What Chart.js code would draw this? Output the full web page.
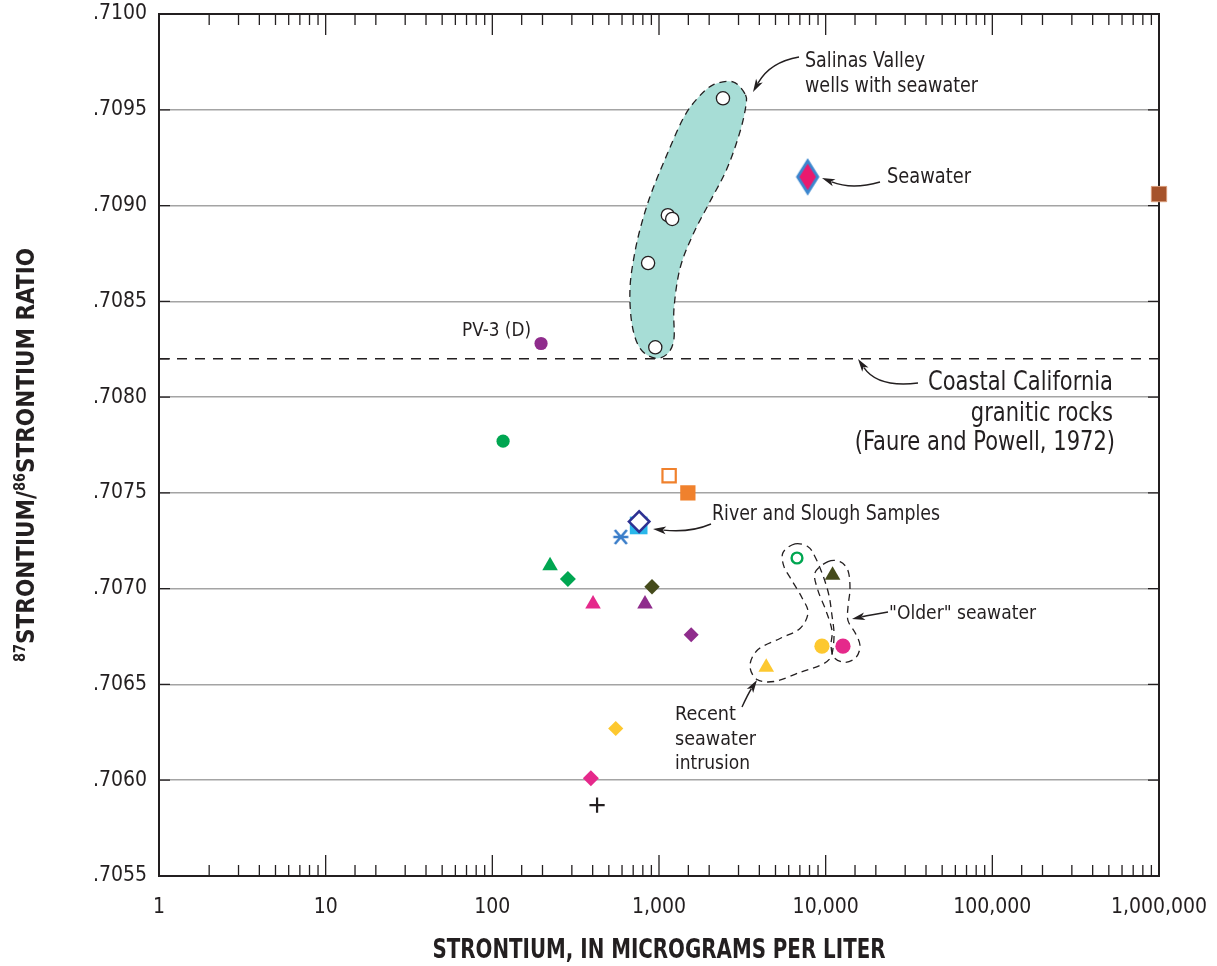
<!DOCTYPE html>
<html><head><meta charset="utf-8">
<script src="https://cdn.jsdelivr.net/npm/chart.js@4.4.0/dist/chart.umd.min.js"></script>
<style>html,body{margin:0;padding:0;background:#fff}#wrap{width:1217px;height:966px;position:relative}</style>
</head><body><div id="wrap"><canvas id="c"></canvas></div>
<script>
// ---------- DATA ----------
const xTickLabels = ['1', '10', '100', '1,000', '10,000', '100,000', '1,000,000'];
const yTickLabels = ['.7055', '.7060', '.7065', '.7070', '.7075', '.7080', '.7085', '.7090', '.7095', '.7100'];

// Salinas Valley wells with seawater (open circles)
const salinasSr = [2420, 1130, 1200, 860, 950];
const salinasRatio = [0.70956, 0.70895, 0.70893, 0.70870, 0.70826];

// Seawater
const seawaterSr = [7800];
const seawaterRatio = [0.70915];

// Other samples (one symbol each)
const sampleNames = ['brown square', 'PV-3 (D)', 'green circle', 'orange open square', 'orange square',
  'cyan square', 'river/slough diamond', 'blue asterisk', 'green triangle', 'green diamond',
  'pink triangle', 'olive diamond', 'purple triangle', 'purple diamond', 'green open circle',
  'olive triangle', 'yellow circle', 'pink circle', 'yellow triangle', 'yellow diamond',
  'pink diamond', 'black plus'];
const sampleSr = [1000000, 196, 116, 1150, 1490, 755, 760, 590, 222, 284,
  402, 908, 824, 1560, 6730, 11000, 9500, 12700, 4400, 550, 390, 425];
const sampleRatio = [0.70906, 0.70828, 0.70777, 0.70759, 0.70750, 0.70733, 0.70735, 0.70727, 0.70712, 0.70705,
  0.70692, 0.70701, 0.70692, 0.70676, 0.70716, 0.70707, 0.70670, 0.70670, 0.70659, 0.70627, 0.70601, 0.70587];

// Coastal California granitic rocks ratio (Faure and Powell, 1972)
const graniteRatio = 0.7082;

// ---------- ANNOTATION GEOMETRY (data space: [log10 Sr, ratio]) ----------
const salinasOutline = [[3.516,.709583],[3.444,.709646],[3.324,.70963],[3.228,.709557],[3.144,.709453],[3.048,.709266],
  [2.964,.709089],[2.904,.708932],[2.856,.70876],[2.826,.708568],[2.838,.70838],[2.886,.708255],[2.976,.708203],
  [3.054,.708229],[3.090,.708307],[3.090,.708464],[3.126,.708672],[3.204,.708849],[3.306,.709021],[3.408,.709193],
  [3.486,.709385],[3.522,.709526]];
const recentOutline = [[3.816,.707234],[3.894,.707219],[3.936,.707167],[3.984,.707068],[4.020,.706964],[4.038,.706859],
  [4.050,.706771],[4.044,.706688],[4.026,.706635],[3.966,.706599],[3.846,.706563],[3.696,.706516],[3.588,.706526],
  [3.546,.706599],[3.594,.706682],[3.726,.70674],[3.846,.706792],[3.894,.706875],[3.858,.706953],[3.798,.707042],
  [3.750,.707115],[3.744,.707188]];
const olderOutline = [[4.014,.707141],[4.086,.707141],[4.134,.707094],[4.146,.707],[4.134,.706906],[4.134,.706833],
  [4.176,.706771],[4.206,.706703],[4.182,.706641],[4.116,.706615],[4.050,.706641],[4.032,.706703],[4.038,.706781],
  [4.002,.706885],[3.954,.70699],[3.936,.707083]];

// ---------- STYLES ----------
const FF = "'Liberation Sans Narrow', 'Arial Narrow', 'DejaVu Sans Condensed', Roboto, sans-serif";
const INK = '#231f20';

function makeCanvas(w, h, draw) { const c = document.createElement('canvas'); c.width = w; c.height = h; draw(c.getContext('2d')); return c; }
const seawaterIcon = makeCanvas(26, 38, g => {
  g.beginPath(); g.moveTo(13, 3); g.lineTo(23, 19); g.lineTo(13, 35); g.lineTo(3, 19); g.closePath();
  g.fillStyle = '#ea1a6e'; g.fill(); g.lineWidth = 3; g.strokeStyle = '#3c87cf'; g.stroke();
});
const asteriskIcon = makeCanvas(20, 20, g => {
  g.strokeStyle = '#3a7dc9'; g.lineWidth = 2.6; g.lineCap = 'butt';
  g.beginPath(); g.moveTo(4, 3); g.lineTo(16, 17); g.moveTo(16, 3); g.lineTo(4, 17); g.moveTo(2.5, 10); g.lineTo(17.5, 10); g.stroke();
});

const sampleStyles = [
  { s: 'rect', r: 10.8, bg: '#a6532b', bc: '#d79a78', bw: 1 },
  { s: 'circle', r: 6.6, bg: '#8f2c8c' },
  { s: 'circle', r: 6.6, bg: '#00a651' },
  { s: 'rect', r: 9.4, bg: '#ffffff', bc: '#f0812d', bw: 2.2 },
  { s: 'rect', r: 10.8, bg: '#f0812d' },
  { s: 'rect', r: 12.5, bg: '#2ab7ea' },
  { s: 'rectRot', r: 10.2, bg: '#ffffff', bc: '#2e3192', bw: 2.6 },
  { s: asteriskIcon, r: 9 },
  { s: 'triangle', r: 9, bg: '#00a651' },
  { s: 'rectRot', r: 8, bg: '#00a651' },
  { s: 'triangle', r: 9, bg: '#e5298b' },
  { s: 'rectRot', r: 7.7, bg: '#454b1b' },
  { s: 'triangle', r: 9, bg: '#8f2c8c' },
  { s: 'rectRot', r: 7.5, bg: '#8f2c8c' },
  { s: 'circle', r: 5.4, bg: '#ffffff', bc: '#00a651', bw: 2.4 },
  { s: 'triangle', r: 9, bg: '#454b1b' },
  { s: 'circle', r: 7.6, bg: '#fdc82f' },
  { s: 'circle', r: 7.6, bg: '#e5298b' },
  { s: 'triangle', r: 9, bg: '#fdc82f' },
  { s: 'rectRot', r: 7.6, bg: '#fdc82f' },
  { s: 'rectRot', r: 8, bg: '#e5298b' },
  { s: 'cross', r: 7.6, bc: INK, bw: 2.2 },
];

// ---------- DATASETS ----------
const datasets = [];
datasets.push({
  type: 'line', label: 'Coastal California granitic rocks',
  data: [{ x: 1, y: graniteRatio }, { x: 1000000, y: graniteRatio }],
  borderColor: INK, borderWidth: 1.5, borderDash: [10, 8], pointRadius: 0, fill: false
});
datasets.push({
  label: 'Salinas Valley wells with seawater',
  data: salinasSr.map((x, i) => ({ x, y: salinasRatio[i] })),
  pointStyle: 'circle', pointRadius: 6.6, backgroundColor: '#ffffff', borderColor: INK, borderWidth: 1.3
});
datasets.push({
  label: 'Seawater',
  data: seawaterSr.map((x, i) => ({ x, y: seawaterRatio[i] })),
  pointStyle: seawaterIcon, pointRadius: 12
});
sampleSr.forEach((x, i) => {
  const st = sampleStyles[i];
  datasets.push({
    label: sampleNames[i],
    data: [{ x, y: sampleRatio[i] }],
    pointStyle: st.s, pointRadius: st.r,
    backgroundColor: st.bg || 'rgba(0,0,0,0)', borderColor: st.bc || st.bg || INK, borderWidth: st.bw || 0
  });
});
datasets.forEach((d, i) => { d.order = datasets.length - i; d.clip = false; d.pointHoverRadius = d.pointRadius; });

// ---------- HELPERS ----------
function textScale(ctx, s, size, w, bold) {
  ctx.font = (bold ? 'bold ' : '') + size + 'px ' + FF;
  return w / ctx.measureText(s).width;
}
function drawText(ctx, s, x, y, size, k, align, bold) {
  ctx.save();
  ctx.font = (bold ? 'bold ' : '') + size + 'px ' + FF;
  ctx.translate(x, y); ctx.scale(k, 1);
  ctx.textAlign = align; ctx.textBaseline = 'alphabetic'; ctx.fillStyle = INK;
  ctx.fillText(s, 0, 0);
  ctx.restore();
}
function fitText(ctx, s, x, y, size, w, align, bold) {
  drawText(ctx, s, x, y, size, textScale(ctx, s, size, w, bold), align, bold);
}
function smoothClosed(ctx, pts) {
  const n = pts.length;
  ctx.beginPath(); ctx.moveTo(pts[0][0], pts[0][1]);
  for (let i = 0; i < n; i++) {
    const p0 = pts[(i - 1 + n) % n], p1 = pts[i], p2 = pts[(i + 1) % n], p3 = pts[(i + 2) % n];
    ctx.bezierCurveTo(p1[0] + (p2[0] - p0[0]) / 6, p1[1] + (p2[1] - p0[1]) / 6,
      p2[0] - (p3[0] - p1[0]) / 6, p2[1] - (p3[1] - p1[1]) / 6, p2[0], p2[1]);
  }
  ctx.closePath();
}
function toPx(chart, outline) {
  const xs = chart.scales.x, ys = chart.scales.y;
  return outline.map(([lx, r]) => [xs.getPixelForValue(Math.pow(10, lx)), ys.getPixelForValue(r)]);
}
function arrow(ctx, x0, y0, cx, cy, x1, y1) {
  const a = Math.atan2(y1 - cy, x1 - cx), L = 13, W = 3.8;
  const bx = x1 - L * 0.8 * Math.cos(a), by = y1 - L * 0.8 * Math.sin(a);
  ctx.beginPath(); ctx.moveTo(x0, y0); ctx.quadraticCurveTo(cx, cy, bx, by);
  ctx.lineWidth = 1.4; ctx.strokeStyle = INK; ctx.stroke();
  ctx.beginPath(); ctx.moveTo(x1, y1);
  ctx.lineTo(x1 - L * Math.cos(a) + W * Math.sin(a), y1 - L * Math.sin(a) - W * Math.cos(a));
  ctx.lineTo(x1 - L * 0.75 * Math.cos(a), y1 - L * 0.75 * Math.sin(a));
  ctx.lineTo(x1 - L * Math.cos(a) - W * Math.sin(a), y1 - L * Math.sin(a) + W * Math.cos(a));
  ctx.closePath(); ctx.fillStyle = INK; ctx.fill();
}

const decor = {
  id: 'decor',
  beforeDatasetsDraw(chart) {
    const ctx = chart.ctx, ca = chart.chartArea;
    ctx.save();
    ctx.strokeStyle = INK; ctx.lineWidth = 2;
    ctx.strokeRect(ca.left, ca.top, ca.right - ca.left, ca.bottom - ca.top);
    ctx.lineWidth = 1.3;
    const xs = chart.scales.x, ys = chart.scales.y;
    xs.ticks.forEach(t => {
      const lg = Math.log10(t.value), major = Math.abs(lg - Math.round(lg)) < 1e-9;
      const px = xs.getPixelForValue(t.value), len = major ? 21 : 11;
      ctx.beginPath(); ctx.moveTo(px, ca.bottom); ctx.lineTo(px, ca.bottom - len);
      ctx.moveTo(px, ca.top); ctx.lineTo(px, ca.top + len); ctx.stroke();
    });
    ys.ticks.map(t => t.value).concat([graniteRatio]).forEach(v => {
      const py = ys.getPixelForValue(v);
      ctx.beginPath(); ctx.moveTo(ca.left, py); ctx.lineTo(ca.left + 11, py);
      if (v !== graniteRatio) { ctx.moveTo(ca.right, py); ctx.lineTo(ca.right - 11, py); }
      ctx.stroke();
    });
    smoothClosed(ctx, toPx(chart, salinasOutline));
    ctx.fillStyle = '#a7ddd6'; ctx.fill();
    ctx.setLineDash([7, 5]); ctx.lineWidth = 1.3; ctx.strokeStyle = INK; ctx.stroke();
    smoothClosed(ctx, toPx(chart, recentOutline)); ctx.stroke();
    smoothClosed(ctx, toPx(chart, olderOutline)); ctx.stroke();
    ctx.setLineDash([]);
    ctx.restore();
  },
  afterDraw(chart) {
    const ctx = chart.ctx;
    ctx.save();
    fitText(ctx, 'Salinas Valley', 805, 67, 21, 120, 'left');
    fitText(ctx, 'wells with seawater', 805, 92, 21, 173, 'left');
    fitText(ctx, 'Seawater', 887, 183, 21, 84, 'left');
    const kc = textScale(ctx, 'Coastal California', 26, 185);
    drawText(ctx, 'Coastal California', 1113, 390, 26, kc, 'right');
    drawText(ctx, 'granitic rocks', 1113, 421, 26, kc, 'right');
    drawText(ctx, '(Faure and Powell, 1972)', 1115, 450, 26, kc, 'right');
    fitText(ctx, 'PV-3 (D)', 462, 336, 20, 69, 'left');
    fitText(ctx, 'River and Slough Samples', 712, 520, 21, 228, 'left');
    fitText(ctx, '"Older" seawater', 889, 619, 20, 147, 'left');
    fitText(ctx, 'Recent', 675, 720, 20, 61, 'left');
    fitText(ctx, 'seawater', 675, 745, 20, 81, 'left');
    fitText(ctx, 'intrusion', 675, 769, 20, 75, 'left');
    arrow(ctx, 799, 57, 770, 62, 753, 92);
    arrow(ctx, 880, 182, 852, 190, 822, 178);
    arrow(ctx, 918, 383, 878, 388, 858, 359);
    arrow(ctx, 711, 524, 690, 533, 653, 529);
    arrow(ctx, 888, 612, 870, 615, 852, 619);
    arrow(ctx, 742, 707, 748, 694, 757, 680);
    fitText(ctx, 'STRONTIUM, IN MICROGRAMS PER LITER', 659, 958, 26, 453, 'center', true);
    const parts = [['87', 1], ['STRONTIUM/', 0], ['86', 1], ['STRONTIUM RATIO', 0]];
    const main = 'bold 25px ' + FF, sup = 'bold 15px ' + FF;
    let total = 0; const ws = parts.map(([t, s]) => { ctx.font = s ? sup : main; const w = ctx.measureText(t).width; total += w; return w; });
    const k = 414 / total;
    ctx.translate(34, 455); ctx.rotate(-Math.PI / 2); ctx.scale(k, 1);
    ctx.fillStyle = INK; ctx.textAlign = 'left'; ctx.textBaseline = 'alphabetic';
    let x = -total / 2;
    parts.forEach(([t, s], i) => { ctx.font = s ? sup : main; ctx.fillText(t, x, s ? -9 : 0); x += ws[i]; });
    ctx.restore();
  }
};

new Chart(document.getElementById('c'), {
  type: 'scatter',
  data: { datasets },
  options: {
    responsive: true, maintainAspectRatio: false, animation: false, devicePixelRatio: 1,
    layout: { padding: { top: 14, right: 58, left: 0, bottom: 0 } },
    plugins: { legend: { display: false }, tooltip: { enabled: false } },
    events: [],
    scales: {
      x: {
        type: 'logarithmic', position: 'bottom', min: 1, max: 1000000,
        grid: { display: false, drawTicks: false }, border: { display: false },
        ticks: {
          autoSkip: false, maxRotation: 0, padding: 19, color: INK, font: { family: FF, size: 21 },
          callback: v => { const lg = Math.log10(v); return Math.abs(lg - Math.round(lg)) < 1e-9 ? xTickLabels[Math.round(lg)] : ''; }
        },
        afterFit: s => { s.height = 90; s.paddingLeft = 0; s.paddingRight = 0; }
      },
      y: {
        type: 'linear', min: 0.7055, max: 0.7100,
        grid: {
          drawTicks: false, lineWidth: 1.5,
          color: c => (c.tick && (Math.abs(c.tick.value - 0.7055) < 1e-7 || Math.abs(c.tick.value - 0.71) < 1e-7)) ? 'rgba(0,0,0,0)' : '#a4a4a4'
        },
        border: { display: false },
        ticks: {
          stepSize: 0.0005, padding: 12, color: INK, font: { family: FF, size: 21 },
          callback: v => yTickLabels[Math.round((v - 0.7055) / 0.0005)]
        },
        afterFit: s => { s.width = 159; s.paddingTop = 0; s.paddingBottom = 0; }
      }
    }
  },
  plugins: [decor]
});
</script></body></html>
